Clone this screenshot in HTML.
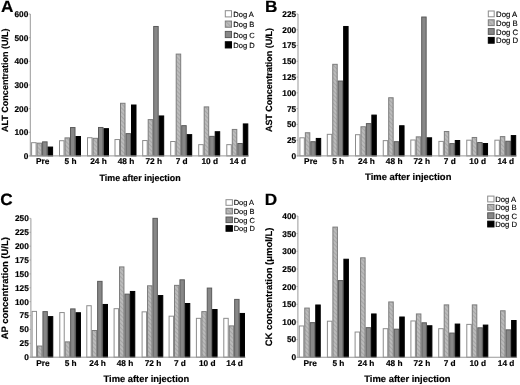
<!DOCTYPE html>
<html><head><meta charset="utf-8"><style>
html,body{margin:0;padding:0;background:#fff;}
body{width:520px;height:385px;overflow:hidden;}
svg{display:block;}
text{stroke:#000;stroke-width:0.18px;}
.lg{stroke-width:0.14px;}
svg{font-family:"Liberation Sans",sans-serif;will-change:transform;text-rendering:geometricPrecision;}
</style></head><body>
<svg width="520" height="385" viewBox="0 0 520 385">
<defs>
<pattern id="hatch" patternUnits="userSpaceOnUse" width="3" height="3" patternTransform="rotate(-45)">
<rect width="3" height="3" fill="#bbbbbb"/><rect width="1" height="3" fill="#a6a6a6"/>
</pattern>
</defs>
<rect width="520" height="385" fill="#fff"/>
<g><text transform="translate(0.9,12.2) scale(1.05,1)" font-size="16.4" font-weight="bold" fill="#000">A</text>
<rect x="31.60" y="142.68" width="4.50" height="13.22" fill="#ffffff" stroke="#8c8c8c" stroke-width="1"/>
<rect x="37.10" y="143.16" width="4.50" height="12.74" fill="url(#hatch)" stroke="#7c7c7c" stroke-width="1"/>
<rect x="42.60" y="141.86" width="4.50" height="14.04" fill="#878787" stroke="#5a5a5a" stroke-width="1"/>
<rect x="48.10" y="147.06" width="4.50" height="8.84" fill="#000000" stroke="#000000" stroke-width="1"/>
<text x="42.60" y="164.3" font-size="8.3" font-weight="bold" text-anchor="middle">Pre</text>
<rect x="59.50" y="140.72" width="4.50" height="15.18" fill="#ffffff" stroke="#8c8c8c" stroke-width="1"/>
<rect x="65.00" y="137.88" width="4.50" height="18.02" fill="url(#hatch)" stroke="#7c7c7c" stroke-width="1"/>
<rect x="70.50" y="127.55" width="4.50" height="28.35" fill="#878787" stroke="#5a5a5a" stroke-width="1"/>
<rect x="76.00" y="136.53" width="4.50" height="19.37" fill="#000000" stroke="#000000" stroke-width="1"/>
<text x="70.50" y="164.3" font-size="8.3" font-weight="bold" text-anchor="middle">5 h</text>
<rect x="87.50" y="137.72" width="4.50" height="18.18" fill="#ffffff" stroke="#8c8c8c" stroke-width="1"/>
<rect x="93.00" y="138.31" width="4.50" height="17.59" fill="url(#hatch)" stroke="#7c7c7c" stroke-width="1"/>
<rect x="98.50" y="127.48" width="4.50" height="28.42" fill="#878787" stroke="#5a5a5a" stroke-width="1"/>
<rect x="104.00" y="128.66" width="4.50" height="27.24" fill="#000000" stroke="#000000" stroke-width="1"/>
<text x="98.50" y="164.3" font-size="8.3" font-weight="bold" text-anchor="middle">24 h</text>
<rect x="115.00" y="139.54" width="4.50" height="16.36" fill="#ffffff" stroke="#8c8c8c" stroke-width="1"/>
<rect x="120.50" y="103.28" width="4.50" height="52.62" fill="url(#hatch)" stroke="#7c7c7c" stroke-width="1"/>
<rect x="126.00" y="133.63" width="4.50" height="22.27" fill="#878787" stroke="#5a5a5a" stroke-width="1"/>
<rect x="131.50" y="105.01" width="4.50" height="50.89" fill="#000000" stroke="#000000" stroke-width="1"/>
<text x="126.00" y="164.3" font-size="8.3" font-weight="bold" text-anchor="middle">48 h</text>
<rect x="142.70" y="140.55" width="4.50" height="15.35" fill="#ffffff" stroke="#8c8c8c" stroke-width="1"/>
<rect x="148.20" y="119.62" width="4.50" height="36.28" fill="url(#hatch)" stroke="#7c7c7c" stroke-width="1"/>
<rect x="153.70" y="26.47" width="4.50" height="129.43" fill="#878787" stroke="#5a5a5a" stroke-width="1"/>
<rect x="159.20" y="115.96" width="4.50" height="39.94" fill="#000000" stroke="#000000" stroke-width="1"/>
<text x="153.70" y="164.3" font-size="8.3" font-weight="bold" text-anchor="middle">72 h</text>
<rect x="170.70" y="141.50" width="4.50" height="14.40" fill="#ffffff" stroke="#8c8c8c" stroke-width="1"/>
<rect x="176.20" y="54.09" width="4.50" height="101.81" fill="url(#hatch)" stroke="#7c7c7c" stroke-width="1"/>
<rect x="181.70" y="125.66" width="4.50" height="30.25" fill="#878787" stroke="#5a5a5a" stroke-width="1"/>
<rect x="187.20" y="134.64" width="4.50" height="21.26" fill="#000000" stroke="#000000" stroke-width="1"/>
<text x="181.70" y="164.3" font-size="8.3" font-weight="bold" text-anchor="middle">7 d</text>
<rect x="198.70" y="144.65" width="4.50" height="11.25" fill="#ffffff" stroke="#8c8c8c" stroke-width="1"/>
<rect x="204.20" y="106.90" width="4.50" height="49.00" fill="url(#hatch)" stroke="#7c7c7c" stroke-width="1"/>
<rect x="209.70" y="136.37" width="4.50" height="19.53" fill="#878787" stroke="#5a5a5a" stroke-width="1"/>
<rect x="215.20" y="131.73" width="4.50" height="24.17" fill="#000000" stroke="#000000" stroke-width="1"/>
<text x="209.70" y="164.3" font-size="8.3" font-weight="bold" text-anchor="middle">10 d</text>
<rect x="226.80" y="144.65" width="4.50" height="11.25" fill="#ffffff" stroke="#8c8c8c" stroke-width="1"/>
<rect x="232.30" y="129.44" width="4.50" height="26.46" fill="url(#hatch)" stroke="#7c7c7c" stroke-width="1"/>
<rect x="237.80" y="143.51" width="4.50" height="12.39" fill="#878787" stroke="#5a5a5a" stroke-width="1"/>
<rect x="243.30" y="123.93" width="4.50" height="31.97" fill="#000000" stroke="#000000" stroke-width="1"/>
<text x="237.80" y="164.3" font-size="8.3" font-weight="bold" text-anchor="middle">14 d</text>
<line x1="30.3" y1="14.0" x2="30.3" y2="156.4" stroke="#999" stroke-width="1"/>
<line x1="29.8" y1="155.9" x2="248.80" y2="155.9" stroke="#999" stroke-width="1"/>
<line x1="28.8" y1="155.90" x2="30.3" y2="155.90" stroke="#999" stroke-width="0.8"/>
<text x="28.3" y="158.80" font-size="8.3" font-weight="bold" text-anchor="end">0</text>
<line x1="28.8" y1="132.25" x2="30.3" y2="132.25" stroke="#999" stroke-width="0.8"/>
<text x="28.3" y="135.15" font-size="8.3" font-weight="bold" text-anchor="end">100</text>
<line x1="28.8" y1="108.60" x2="30.3" y2="108.60" stroke="#999" stroke-width="0.8"/>
<text x="28.3" y="111.50" font-size="8.3" font-weight="bold" text-anchor="end">200</text>
<line x1="28.8" y1="84.95" x2="30.3" y2="84.95" stroke="#999" stroke-width="0.8"/>
<text x="28.3" y="87.85" font-size="8.3" font-weight="bold" text-anchor="end">300</text>
<line x1="28.8" y1="61.30" x2="30.3" y2="61.30" stroke="#999" stroke-width="0.8"/>
<text x="28.3" y="64.20" font-size="8.3" font-weight="bold" text-anchor="end">400</text>
<line x1="28.8" y1="37.65" x2="30.3" y2="37.65" stroke="#999" stroke-width="0.8"/>
<text x="28.3" y="40.55" font-size="8.3" font-weight="bold" text-anchor="end">500</text>
<line x1="28.8" y1="14.00" x2="30.3" y2="14.00" stroke="#999" stroke-width="0.8"/>
<text x="28.3" y="16.90" font-size="8.3" font-weight="bold" text-anchor="end">600</text>
<text transform="translate(8.3,132.1) rotate(-90)" x="0" y="0" font-size="9.0" font-weight="bold" textLength="103.7" lengthAdjust="spacingAndGlyphs">ALT Concentration (U/L)</text>
<text x="99.6" y="180.5" font-size="9.2" font-weight="bold" textLength="81.0" lengthAdjust="spacingAndGlyphs">Time after injection</text>
<rect x="225.3" y="10.70" width="6.20" height="6.20" fill="#ffffff" stroke="#8c8c8c" stroke-width="1"/>
<text x="233.29999999999998" y="17.00" font-size="7.55" class="lg">Dog A</text>
<rect x="225.3" y="21.05" width="6.20" height="6.20" fill="url(#hatch)" stroke="#7c7c7c" stroke-width="1"/>
<text x="233.29999999999998" y="27.35" font-size="7.55" class="lg">Dog B</text>
<rect x="225.3" y="31.40" width="6.20" height="6.20" fill="#878787" stroke="#5a5a5a" stroke-width="1"/>
<text x="233.29999999999998" y="37.70" font-size="7.55" class="lg">Dog C</text>
<rect x="225.3" y="41.75" width="6.20" height="6.20" fill="#000000" stroke="#000000" stroke-width="1"/>
<text x="233.29999999999998" y="48.05" font-size="7.55" class="lg">Dog D</text></g>
<g><text transform="translate(264.9,12.1) scale(1.05,1)" font-size="16.4" font-weight="bold" fill="#000">B</text>
<rect x="299.90" y="137.80" width="4.45" height="18.10" fill="#ffffff" stroke="#8c8c8c" stroke-width="1"/>
<rect x="305.35" y="132.75" width="4.45" height="23.15" fill="url(#hatch)" stroke="#7c7c7c" stroke-width="1"/>
<rect x="310.80" y="141.71" width="4.45" height="14.19" fill="#878787" stroke="#5a5a5a" stroke-width="1"/>
<rect x="316.25" y="138.43" width="4.45" height="17.47" fill="#000000" stroke="#000000" stroke-width="1"/>
<text x="310.80" y="163.8" font-size="8.3" font-weight="bold" text-anchor="middle">Pre</text>
<rect x="327.30" y="134.33" width="4.45" height="21.57" fill="#ffffff" stroke="#8c8c8c" stroke-width="1"/>
<rect x="332.75" y="64.32" width="4.45" height="91.58" fill="url(#hatch)" stroke="#7c7c7c" stroke-width="1"/>
<rect x="338.20" y="81.04" width="4.45" height="74.86" fill="#878787" stroke="#5a5a5a" stroke-width="1"/>
<rect x="343.65" y="26.48" width="4.45" height="129.42" fill="#000000" stroke="#000000" stroke-width="1"/>
<text x="338.20" y="163.8" font-size="8.3" font-weight="bold" text-anchor="middle">5 h</text>
<rect x="355.50" y="134.71" width="4.45" height="21.19" fill="#ffffff" stroke="#8c8c8c" stroke-width="1"/>
<rect x="360.95" y="126.76" width="4.45" height="29.14" fill="url(#hatch)" stroke="#7c7c7c" stroke-width="1"/>
<rect x="366.40" y="123.61" width="4.45" height="32.29" fill="#878787" stroke="#5a5a5a" stroke-width="1"/>
<rect x="371.85" y="115.09" width="4.45" height="40.81" fill="#000000" stroke="#000000" stroke-width="1"/>
<text x="366.40" y="163.8" font-size="8.3" font-weight="bold" text-anchor="middle">24 h</text>
<rect x="383.25" y="140.63" width="4.45" height="15.27" fill="#ffffff" stroke="#8c8c8c" stroke-width="1"/>
<rect x="388.70" y="97.75" width="4.45" height="58.15" fill="url(#hatch)" stroke="#7c7c7c" stroke-width="1"/>
<rect x="394.15" y="141.71" width="4.45" height="14.19" fill="#878787" stroke="#5a5a5a" stroke-width="1"/>
<rect x="399.60" y="125.75" width="4.45" height="30.15" fill="#000000" stroke="#000000" stroke-width="1"/>
<text x="394.15" y="163.8" font-size="8.3" font-weight="bold" text-anchor="middle">48 h</text>
<rect x="410.80" y="140.00" width="4.45" height="15.90" fill="#ffffff" stroke="#8c8c8c" stroke-width="1"/>
<rect x="416.25" y="136.85" width="4.45" height="19.05" fill="url(#hatch)" stroke="#7c7c7c" stroke-width="1"/>
<rect x="421.70" y="17.02" width="4.45" height="138.88" fill="#878787" stroke="#5a5a5a" stroke-width="1"/>
<rect x="427.15" y="137.80" width="4.45" height="18.10" fill="#000000" stroke="#000000" stroke-width="1"/>
<text x="421.70" y="163.8" font-size="8.3" font-weight="bold" text-anchor="middle">72 h</text>
<rect x="438.90" y="141.39" width="4.45" height="14.51" fill="#ffffff" stroke="#8c8c8c" stroke-width="1"/>
<rect x="444.35" y="131.49" width="4.45" height="24.41" fill="url(#hatch)" stroke="#7c7c7c" stroke-width="1"/>
<rect x="449.80" y="143.60" width="4.45" height="12.30" fill="#878787" stroke="#5a5a5a" stroke-width="1"/>
<rect x="455.25" y="140.51" width="4.45" height="15.39" fill="#000000" stroke="#000000" stroke-width="1"/>
<text x="449.80" y="163.8" font-size="8.3" font-weight="bold" text-anchor="middle">7 d</text>
<rect x="466.75" y="140.19" width="4.45" height="15.71" fill="#ffffff" stroke="#8c8c8c" stroke-width="1"/>
<rect x="472.20" y="137.48" width="4.45" height="18.42" fill="url(#hatch)" stroke="#7c7c7c" stroke-width="1"/>
<rect x="477.65" y="142.53" width="4.45" height="13.37" fill="#878787" stroke="#5a5a5a" stroke-width="1"/>
<rect x="483.10" y="143.53" width="4.45" height="12.37" fill="#000000" stroke="#000000" stroke-width="1"/>
<text x="477.65" y="163.8" font-size="8.3" font-weight="bold" text-anchor="middle">10 d</text>
<rect x="494.90" y="140.19" width="4.45" height="15.71" fill="#ffffff" stroke="#8c8c8c" stroke-width="1"/>
<rect x="500.35" y="136.60" width="4.45" height="19.30" fill="url(#hatch)" stroke="#7c7c7c" stroke-width="1"/>
<rect x="505.80" y="141.26" width="4.45" height="14.64" fill="#878787" stroke="#5a5a5a" stroke-width="1"/>
<rect x="511.25" y="135.59" width="4.45" height="20.31" fill="#000000" stroke="#000000" stroke-width="1"/>
<text x="505.80" y="163.8" font-size="8.3" font-weight="bold" text-anchor="middle">14 d</text>
<line x1="298.0" y1="14.0" x2="298.0" y2="156.4" stroke="#999" stroke-width="1"/>
<line x1="297.5" y1="155.9" x2="516.70" y2="155.9" stroke="#999" stroke-width="1"/>
<line x1="296.5" y1="155.90" x2="298.0" y2="155.90" stroke="#999" stroke-width="0.8"/>
<text x="296.2" y="158.80" font-size="8.3" font-weight="bold" text-anchor="end">0</text>
<line x1="296.5" y1="140.13" x2="298.0" y2="140.13" stroke="#999" stroke-width="0.8"/>
<text x="296.2" y="143.03" font-size="8.3" font-weight="bold" text-anchor="end">25</text>
<line x1="296.5" y1="124.37" x2="298.0" y2="124.37" stroke="#999" stroke-width="0.8"/>
<text x="296.2" y="127.27" font-size="8.3" font-weight="bold" text-anchor="end">50</text>
<line x1="296.5" y1="108.60" x2="298.0" y2="108.60" stroke="#999" stroke-width="0.8"/>
<text x="296.2" y="111.50" font-size="8.3" font-weight="bold" text-anchor="end">75</text>
<line x1="296.5" y1="92.83" x2="298.0" y2="92.83" stroke="#999" stroke-width="0.8"/>
<text x="296.2" y="95.73" font-size="8.3" font-weight="bold" text-anchor="end">100</text>
<line x1="296.5" y1="77.07" x2="298.0" y2="77.07" stroke="#999" stroke-width="0.8"/>
<text x="296.2" y="79.97" font-size="8.3" font-weight="bold" text-anchor="end">125</text>
<line x1="296.5" y1="61.30" x2="298.0" y2="61.30" stroke="#999" stroke-width="0.8"/>
<text x="296.2" y="64.20" font-size="8.3" font-weight="bold" text-anchor="end">150</text>
<line x1="296.5" y1="45.53" x2="298.0" y2="45.53" stroke="#999" stroke-width="0.8"/>
<text x="296.2" y="48.43" font-size="8.3" font-weight="bold" text-anchor="end">175</text>
<line x1="296.5" y1="29.77" x2="298.0" y2="29.77" stroke="#999" stroke-width="0.8"/>
<text x="296.2" y="32.67" font-size="8.3" font-weight="bold" text-anchor="end">200</text>
<line x1="296.5" y1="14.00" x2="298.0" y2="14.00" stroke="#999" stroke-width="0.8"/>
<text x="296.2" y="16.90" font-size="8.3" font-weight="bold" text-anchor="end">225</text>
<text transform="translate(272.0,132.1) rotate(-90)" x="0" y="0" font-size="9.0" font-weight="bold" textLength="104.2" lengthAdjust="spacingAndGlyphs">AST Concentration (U/L)</text>
<text x="365.1" y="180.1" font-size="9.45" font-weight="bold" textLength="86.3" lengthAdjust="spacingAndGlyphs">Time after injection</text>
<rect x="488.3" y="11.00" width="5.90" height="5.80" fill="#ffffff" stroke="#8c8c8c" stroke-width="1"/>
<text x="496.1" y="16.90" font-size="7.75" class="lg">Dog A</text>
<rect x="488.3" y="19.80" width="5.90" height="5.80" fill="url(#hatch)" stroke="#7c7c7c" stroke-width="1"/>
<text x="496.1" y="25.70" font-size="7.75" class="lg">Dog B</text>
<rect x="488.3" y="28.60" width="5.90" height="5.80" fill="#878787" stroke="#5a5a5a" stroke-width="1"/>
<text x="496.1" y="34.50" font-size="7.75" class="lg">Dog C</text>
<rect x="488.3" y="37.40" width="5.90" height="5.80" fill="#000000" stroke="#000000" stroke-width="1"/>
<text x="496.1" y="43.30" font-size="7.75" class="lg">Dog D</text></g>
<g><text transform="translate(0.3,205.1) scale(1.05,1)" font-size="16.4" font-weight="bold" fill="#000">C</text>
<rect x="32.10" y="311.40" width="4.42" height="45.80" fill="#ffffff" stroke="#8c8c8c" stroke-width="1"/>
<rect x="37.52" y="346.04" width="4.42" height="11.16" fill="url(#hatch)" stroke="#7c7c7c" stroke-width="1"/>
<rect x="42.94" y="311.62" width="4.42" height="45.58" fill="#878787" stroke="#5a5a5a" stroke-width="1"/>
<rect x="48.36" y="316.62" width="4.42" height="40.58" fill="#000000" stroke="#000000" stroke-width="1"/>
<text x="42.94" y="365.5" font-size="8.3" font-weight="bold" text-anchor="middle">Pre</text>
<rect x="59.80" y="312.56" width="4.42" height="44.64" fill="#ffffff" stroke="#8c8c8c" stroke-width="1"/>
<rect x="65.22" y="341.88" width="4.42" height="15.32" fill="url(#hatch)" stroke="#7c7c7c" stroke-width="1"/>
<rect x="70.64" y="308.90" width="4.42" height="48.30" fill="#878787" stroke="#5a5a5a" stroke-width="1"/>
<rect x="76.06" y="312.73" width="4.42" height="44.47" fill="#000000" stroke="#000000" stroke-width="1"/>
<text x="70.64" y="365.5" font-size="8.3" font-weight="bold" text-anchor="middle">5 h</text>
<rect x="86.80" y="305.73" width="4.42" height="51.47" fill="#ffffff" stroke="#8c8c8c" stroke-width="1"/>
<rect x="92.22" y="330.50" width="4.42" height="26.70" fill="url(#hatch)" stroke="#7c7c7c" stroke-width="1"/>
<rect x="97.64" y="281.36" width="4.42" height="75.84" fill="#878787" stroke="#5a5a5a" stroke-width="1"/>
<rect x="103.06" y="304.46" width="4.42" height="52.74" fill="#000000" stroke="#000000" stroke-width="1"/>
<text x="97.64" y="365.5" font-size="8.3" font-weight="bold" text-anchor="middle">24 h</text>
<rect x="114.10" y="308.68" width="4.42" height="48.52" fill="#ffffff" stroke="#8c8c8c" stroke-width="1"/>
<rect x="119.52" y="266.92" width="4.42" height="90.28" fill="url(#hatch)" stroke="#7c7c7c" stroke-width="1"/>
<rect x="124.94" y="294.13" width="4.42" height="63.07" fill="#878787" stroke="#5a5a5a" stroke-width="1"/>
<rect x="130.36" y="291.46" width="4.42" height="65.74" fill="#000000" stroke="#000000" stroke-width="1"/>
<text x="124.94" y="365.5" font-size="8.3" font-weight="bold" text-anchor="middle">48 h</text>
<rect x="142.10" y="311.84" width="4.42" height="45.36" fill="#ffffff" stroke="#8c8c8c" stroke-width="1"/>
<rect x="147.52" y="285.80" width="4.42" height="71.40" fill="url(#hatch)" stroke="#7c7c7c" stroke-width="1"/>
<rect x="152.94" y="218.34" width="4.42" height="138.86" fill="#878787" stroke="#5a5a5a" stroke-width="1"/>
<rect x="158.36" y="295.57" width="4.42" height="61.63" fill="#000000" stroke="#000000" stroke-width="1"/>
<text x="152.94" y="365.5" font-size="8.3" font-weight="bold" text-anchor="middle">72 h</text>
<rect x="169.10" y="316.17" width="4.42" height="41.03" fill="#ffffff" stroke="#8c8c8c" stroke-width="1"/>
<rect x="174.52" y="285.36" width="4.42" height="71.84" fill="url(#hatch)" stroke="#7c7c7c" stroke-width="1"/>
<rect x="179.94" y="279.81" width="4.42" height="77.39" fill="#878787" stroke="#5a5a5a" stroke-width="1"/>
<rect x="185.36" y="303.51" width="4.42" height="53.69" fill="#000000" stroke="#000000" stroke-width="1"/>
<text x="179.94" y="365.5" font-size="8.3" font-weight="bold" text-anchor="middle">7 d</text>
<rect x="196.40" y="318.34" width="4.42" height="38.86" fill="#ffffff" stroke="#8c8c8c" stroke-width="1"/>
<rect x="201.82" y="311.62" width="4.42" height="45.58" fill="url(#hatch)" stroke="#7c7c7c" stroke-width="1"/>
<rect x="207.24" y="288.08" width="4.42" height="69.12" fill="#878787" stroke="#5a5a5a" stroke-width="1"/>
<rect x="212.66" y="309.51" width="4.42" height="47.69" fill="#000000" stroke="#000000" stroke-width="1"/>
<text x="207.24" y="365.5" font-size="8.3" font-weight="bold" text-anchor="middle">10 d</text>
<rect x="223.80" y="318.34" width="4.42" height="38.86" fill="#ffffff" stroke="#8c8c8c" stroke-width="1"/>
<rect x="229.22" y="325.89" width="4.42" height="31.31" fill="url(#hatch)" stroke="#7c7c7c" stroke-width="1"/>
<rect x="234.64" y="299.40" width="4.42" height="57.80" fill="#878787" stroke="#5a5a5a" stroke-width="1"/>
<rect x="240.06" y="313.45" width="4.42" height="43.75" fill="#000000" stroke="#000000" stroke-width="1"/>
<text x="234.64" y="365.5" font-size="8.3" font-weight="bold" text-anchor="middle">14 d</text>
<line x1="30.9" y1="218.4" x2="30.9" y2="357.7" stroke="#999" stroke-width="1"/>
<line x1="30.4" y1="357.2" x2="245.48" y2="357.2" stroke="#999" stroke-width="1"/>
<line x1="29.4" y1="357.20" x2="30.9" y2="357.20" stroke="#999" stroke-width="0.8"/>
<text x="28.8" y="360.10" font-size="8.3" font-weight="bold" text-anchor="end">0</text>
<line x1="29.4" y1="343.32" x2="30.9" y2="343.32" stroke="#999" stroke-width="0.8"/>
<text x="28.8" y="346.22" font-size="8.3" font-weight="bold" text-anchor="end">25</text>
<line x1="29.4" y1="329.44" x2="30.9" y2="329.44" stroke="#999" stroke-width="0.8"/>
<text x="28.8" y="332.34" font-size="8.3" font-weight="bold" text-anchor="end">50</text>
<line x1="29.4" y1="315.56" x2="30.9" y2="315.56" stroke="#999" stroke-width="0.8"/>
<text x="28.8" y="318.46" font-size="8.3" font-weight="bold" text-anchor="end">75</text>
<line x1="29.4" y1="301.68" x2="30.9" y2="301.68" stroke="#999" stroke-width="0.8"/>
<text x="28.8" y="304.58" font-size="8.3" font-weight="bold" text-anchor="end">100</text>
<line x1="29.4" y1="287.80" x2="30.9" y2="287.80" stroke="#999" stroke-width="0.8"/>
<text x="28.8" y="290.70" font-size="8.3" font-weight="bold" text-anchor="end">125</text>
<line x1="29.4" y1="273.92" x2="30.9" y2="273.92" stroke="#999" stroke-width="0.8"/>
<text x="28.8" y="276.82" font-size="8.3" font-weight="bold" text-anchor="end">150</text>
<line x1="29.4" y1="260.04" x2="30.9" y2="260.04" stroke="#999" stroke-width="0.8"/>
<text x="28.8" y="262.94" font-size="8.3" font-weight="bold" text-anchor="end">175</text>
<line x1="29.4" y1="246.16" x2="30.9" y2="246.16" stroke="#999" stroke-width="0.8"/>
<text x="28.8" y="249.06" font-size="8.3" font-weight="bold" text-anchor="end">200</text>
<line x1="29.4" y1="232.28" x2="30.9" y2="232.28" stroke="#999" stroke-width="0.8"/>
<text x="28.8" y="235.18" font-size="8.3" font-weight="bold" text-anchor="end">225</text>
<line x1="29.4" y1="218.40" x2="30.9" y2="218.40" stroke="#999" stroke-width="0.8"/>
<text x="28.8" y="221.30" font-size="8.3" font-weight="bold" text-anchor="end">250</text>
<text transform="translate(8.0,339.2) rotate(-90)" x="0" y="0" font-size="9.4" font-weight="bold" textLength="102.0" lengthAdjust="spacingAndGlyphs">AP concentration (U/L)</text>
<text x="103.5" y="382.0" font-size="9.45" font-weight="bold" textLength="85.7" lengthAdjust="spacingAndGlyphs">Time after injection</text>
<rect x="226.0" y="199.70" width="6.40" height="5.60" fill="#ffffff" stroke="#8c8c8c" stroke-width="1"/>
<text x="233.7" y="205.40" font-size="7.45" class="lg">Dog A</text>
<rect x="226.0" y="208.35" width="6.40" height="5.60" fill="url(#hatch)" stroke="#7c7c7c" stroke-width="1"/>
<text x="233.7" y="214.05" font-size="7.45" class="lg">Dog B</text>
<rect x="226.0" y="217.00" width="6.40" height="5.60" fill="#878787" stroke="#5a5a5a" stroke-width="1"/>
<text x="233.7" y="222.70" font-size="7.45" class="lg">Dog C</text>
<rect x="226.0" y="225.65" width="6.40" height="5.60" fill="#000000" stroke="#000000" stroke-width="1"/>
<text x="233.7" y="231.35" font-size="7.45" class="lg">Dog D</text></g>
<g><text transform="translate(264.7,204.5) scale(1.05,1)" font-size="16.4" font-weight="bold" fill="#000">D</text>
<rect x="299.25" y="325.97" width="4.50" height="31.28" fill="#ffffff" stroke="#8c8c8c" stroke-width="1"/>
<rect x="304.75" y="308.07" width="4.50" height="49.18" fill="url(#hatch)" stroke="#7c7c7c" stroke-width="1"/>
<rect x="310.25" y="322.65" width="4.50" height="34.60" fill="#878787" stroke="#5a5a5a" stroke-width="1"/>
<rect x="315.75" y="304.99" width="4.50" height="52.26" fill="#000000" stroke="#000000" stroke-width="1"/>
<text x="310.25" y="366.2" font-size="8.3" font-weight="bold" text-anchor="middle">Pre</text>
<rect x="327.40" y="321.20" width="4.50" height="36.05" fill="#ffffff" stroke="#8c8c8c" stroke-width="1"/>
<rect x="332.90" y="227.09" width="4.50" height="130.16" fill="url(#hatch)" stroke="#7c7c7c" stroke-width="1"/>
<rect x="338.40" y="280.59" width="4.50" height="76.66" fill="#878787" stroke="#5a5a5a" stroke-width="1"/>
<rect x="343.90" y="259.23" width="4.50" height="98.02" fill="#000000" stroke="#000000" stroke-width="1"/>
<text x="338.40" y="366.2" font-size="8.3" font-weight="bold" text-anchor="middle">5 h</text>
<rect x="355.10" y="332.04" width="4.50" height="25.21" fill="#ffffff" stroke="#8c8c8c" stroke-width="1"/>
<rect x="360.60" y="257.82" width="4.50" height="99.43" fill="url(#hatch)" stroke="#7c7c7c" stroke-width="1"/>
<rect x="366.10" y="327.66" width="4.50" height="29.59" fill="#878787" stroke="#5a5a5a" stroke-width="1"/>
<rect x="371.60" y="313.96" width="4.50" height="43.29" fill="#000000" stroke="#000000" stroke-width="1"/>
<text x="366.10" y="366.2" font-size="8.3" font-weight="bold" text-anchor="middle">24 h</text>
<rect x="383.25" y="328.69" width="4.50" height="28.56" fill="#ffffff" stroke="#8c8c8c" stroke-width="1"/>
<rect x="388.75" y="301.96" width="4.50" height="55.29" fill="url(#hatch)" stroke="#7c7c7c" stroke-width="1"/>
<rect x="394.25" y="329.18" width="4.50" height="28.07" fill="#878787" stroke="#5a5a5a" stroke-width="1"/>
<rect x="399.75" y="317.00" width="4.50" height="40.25" fill="#000000" stroke="#000000" stroke-width="1"/>
<text x="394.25" y="366.2" font-size="8.3" font-weight="bold" text-anchor="middle">48 h</text>
<rect x="410.90" y="320.95" width="4.50" height="36.30" fill="#ffffff" stroke="#8c8c8c" stroke-width="1"/>
<rect x="416.40" y="313.96" width="4.50" height="43.29" fill="url(#hatch)" stroke="#7c7c7c" stroke-width="1"/>
<rect x="421.90" y="322.79" width="4.50" height="34.46" fill="#878787" stroke="#5a5a5a" stroke-width="1"/>
<rect x="427.40" y="325.76" width="4.50" height="31.49" fill="#000000" stroke="#000000" stroke-width="1"/>
<text x="421.90" y="366.2" font-size="8.3" font-weight="bold" text-anchor="middle">72 h</text>
<rect x="438.70" y="328.69" width="4.50" height="28.56" fill="#ffffff" stroke="#8c8c8c" stroke-width="1"/>
<rect x="444.20" y="304.89" width="4.50" height="52.36" fill="url(#hatch)" stroke="#7c7c7c" stroke-width="1"/>
<rect x="449.70" y="333.07" width="4.50" height="24.18" fill="#878787" stroke="#5a5a5a" stroke-width="1"/>
<rect x="455.20" y="324.06" width="4.50" height="33.19" fill="#000000" stroke="#000000" stroke-width="1"/>
<text x="449.70" y="366.2" font-size="8.3" font-weight="bold" text-anchor="middle">7 d</text>
<rect x="466.80" y="324.38" width="4.50" height="32.87" fill="#ffffff" stroke="#8c8c8c" stroke-width="1"/>
<rect x="472.30" y="304.89" width="4.50" height="52.36" fill="url(#hatch)" stroke="#7c7c7c" stroke-width="1"/>
<rect x="477.80" y="327.81" width="4.50" height="29.45" fill="#878787" stroke="#5a5a5a" stroke-width="1"/>
<rect x="483.30" y="325.09" width="4.50" height="32.16" fill="#000000" stroke="#000000" stroke-width="1"/>
<text x="477.80" y="366.2" font-size="8.3" font-weight="bold" text-anchor="middle">10 d</text>
<rect x="500.60" y="310.78" width="4.50" height="46.47" fill="url(#hatch)" stroke="#7c7c7c" stroke-width="1"/>
<rect x="506.10" y="329.85" width="4.50" height="27.40" fill="#878787" stroke="#5a5a5a" stroke-width="1"/>
<rect x="511.60" y="320.50" width="4.50" height="36.75" fill="#000000" stroke="#000000" stroke-width="1"/>
<text x="506.10" y="366.2" font-size="8.3" font-weight="bold" text-anchor="middle">14 d</text>
<line x1="297.9" y1="216.0" x2="297.9" y2="357.75" stroke="#999" stroke-width="1"/>
<line x1="297.4" y1="357.25" x2="517.10" y2="357.25" stroke="#999" stroke-width="1"/>
<line x1="296.4" y1="357.25" x2="297.9" y2="357.25" stroke="#999" stroke-width="0.8"/>
<text x="296.2" y="360.15" font-size="8.3" font-weight="bold" text-anchor="end">0</text>
<line x1="296.4" y1="339.59" x2="297.9" y2="339.59" stroke="#999" stroke-width="0.8"/>
<text x="296.2" y="342.49" font-size="8.3" font-weight="bold" text-anchor="end">50</text>
<line x1="296.4" y1="321.94" x2="297.9" y2="321.94" stroke="#999" stroke-width="0.8"/>
<text x="296.2" y="324.84" font-size="8.3" font-weight="bold" text-anchor="end">100</text>
<line x1="296.4" y1="304.28" x2="297.9" y2="304.28" stroke="#999" stroke-width="0.8"/>
<text x="296.2" y="307.18" font-size="8.3" font-weight="bold" text-anchor="end">150</text>
<line x1="296.4" y1="286.62" x2="297.9" y2="286.62" stroke="#999" stroke-width="0.8"/>
<text x="296.2" y="289.52" font-size="8.3" font-weight="bold" text-anchor="end">200</text>
<line x1="296.4" y1="268.97" x2="297.9" y2="268.97" stroke="#999" stroke-width="0.8"/>
<text x="296.2" y="271.87" font-size="8.3" font-weight="bold" text-anchor="end">250</text>
<line x1="296.4" y1="251.31" x2="297.9" y2="251.31" stroke="#999" stroke-width="0.8"/>
<text x="296.2" y="254.21" font-size="8.3" font-weight="bold" text-anchor="end">300</text>
<line x1="296.4" y1="233.66" x2="297.9" y2="233.66" stroke="#999" stroke-width="0.8"/>
<text x="296.2" y="236.56" font-size="8.3" font-weight="bold" text-anchor="end">350</text>
<line x1="296.4" y1="216.00" x2="297.9" y2="216.00" stroke="#999" stroke-width="0.8"/>
<text x="296.2" y="218.90" font-size="8.3" font-weight="bold" text-anchor="end">400</text>
<text transform="translate(272.0,346.2) rotate(-90)" x="0" y="0" font-size="9.4" font-weight="bold" textLength="118.5" lengthAdjust="spacingAndGlyphs">CK concentration (μmol/L)</text>
<text x="364.20000000000005" y="381.9" font-size="9.45" font-weight="bold" textLength="86.3" lengthAdjust="spacingAndGlyphs">Time after injection</text>
<rect x="487.7" y="196.10" width="6.30" height="5.80" fill="#ffffff" stroke="#8c8c8c" stroke-width="1"/>
<text x="495.3" y="202.00" font-size="7.7" class="lg">Dog A</text>
<rect x="487.7" y="204.45" width="6.30" height="5.80" fill="url(#hatch)" stroke="#7c7c7c" stroke-width="1"/>
<text x="495.3" y="210.35" font-size="7.7" class="lg">Dog B</text>
<rect x="487.7" y="212.80" width="6.30" height="5.80" fill="#878787" stroke="#5a5a5a" stroke-width="1"/>
<text x="495.3" y="218.70" font-size="7.7" class="lg">Dog C</text>
<rect x="487.7" y="221.15" width="6.30" height="5.80" fill="#000000" stroke="#000000" stroke-width="1"/>
<text x="495.3" y="227.05" font-size="7.7" class="lg">Dog D</text></g>
</svg></body></html>
